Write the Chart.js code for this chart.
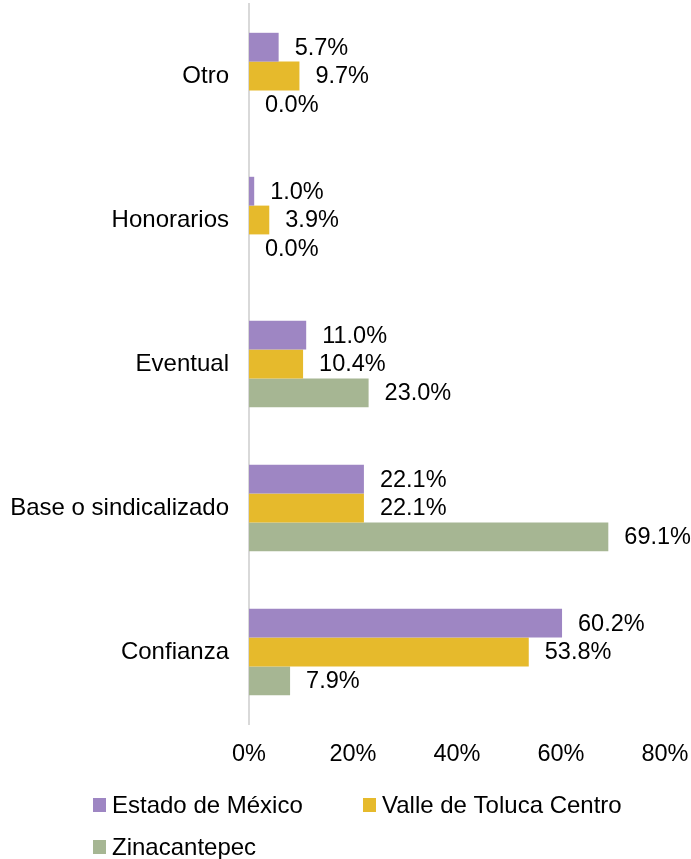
<!DOCTYPE html>
<html>
<head>
<meta charset="utf-8">
<script src="https://cdn.jsdelivr.net/npm/chart.js@4/dist/chart.umd.min.js"></script>
<style>
html,body{margin:0;padding:0;background:#fff;}
#wrap{width:691px;height:859px;position:relative;}
</style>
</head>
<body>
<div id="wrap"><canvas id="c" width="691" height="859"></canvas></div>
<script>
const categories = ['Otro', 'Honorarios', 'Eventual', 'Base o sindicalizado', 'Confianza'];
const seriesNames = ['Estado de México', 'Valle de Toluca Centro', 'Zinacantepec'];
const estadoMexico = [5.7, 1.0, 11.0, 22.1, 60.2];
const valleToluca = [9.7, 3.9, 10.4, 22.1, 53.8];
const zinacantepec = [0.0, 0.0, 23.0, 69.1, 7.9];
const xTicks = [0, 20, 40, 60, 80];
const colors = ['#9E86C3', '#E6BA2C', '#A6B693'];

const FONT = '"Liberation Sans", Arial, sans-serif';

const valueLabels = {
  id: 'valueLabels',
  afterDatasetsDraw(chart) {
    const ctx = chart.ctx;
    ctx.save();
    ctx.font = '23.5px ' + FONT;
    ctx.fillStyle = '#000';
    ctx.textAlign = 'left';
    ctx.textBaseline = 'middle';
    chart.data.datasets.forEach((ds, i) => {
      const meta = chart.getDatasetMeta(i);
      meta.data.forEach((bar, j) => {
        ctx.fillText(ds.data[j].toFixed(1) + '%', bar.x + 16, bar.y + 1);
      });
    });
    ctx.restore();
  }
};

const customLegend = {
  id: 'customLegend',
  afterDraw(chart) {
    const ctx = chart.ctx;
    const pos = [[93, 805], [363, 805], [93, 847]];
    ctx.save();
    ctx.font = '24px ' + FONT;
    ctx.textAlign = 'left';
    ctx.textBaseline = 'middle';
    chart.data.datasets.forEach((ds, i) => {
      const [x, y] = pos[i];
      ctx.fillStyle = ds.backgroundColor;
      ctx.fillRect(x, y - 7, 13, 14);
      ctx.fillStyle = '#000';
      ctx.fillText(ds.label, x + 19, y + 1);
    });
    ctx.restore();
  }
};

new Chart(document.getElementById('c'), {
  type: 'bar',
  data: {
    labels: categories,
    datasets: [
      { label: seriesNames[0], data: estadoMexico, backgroundColor: colors[0] },
      { label: seriesNames[1], data: valleToluca, backgroundColor: colors[1] },
      { label: seriesNames[2], data: zinacantepec, backgroundColor: colors[2] }
    ]
  },
  options: {
    indexAxis: 'y',
    responsive: false,
    animation: false,
    devicePixelRatio: 1,
    layout: { padding: { top: 4, right: 26, left: 0, bottom: 0 } },
    datasets: { bar: { categoryPercentage: 0.6, barPercentage: 1.0 } },
    plugins: {
      legend: { display: false },
      tooltip: { enabled: false }
    },
    scales: {
      x: {
        min: 0, max: 80,
        afterBuildTicks(axis) { axis.ticks = xTicks.map(v => ({ value: v })); },
        afterFit(axis) {
          axis.height = 135;
          axis.paddingLeft = 0; axis.paddingRight = 0;
          axis.paddingTop = 0; axis.paddingBottom = 0;
        },
        grid: { display: false, drawTicks: false },
        border: { display: false },
        ticks: {
          padding: 16,
          maxRotation: 0,
          color: '#000',
          font: { family: FONT, size: 23.5 },
          callback: v => v + '%'
        }
      },
      y: {
        afterFit(axis) {
          axis.width = 249;
          axis.paddingLeft = 0; axis.paddingRight = 0;
          axis.paddingTop = 0; axis.paddingBottom = 0;
        },
        grid: { display: false, drawTicks: false },
        border: { display: true, color: '#D9D9D9', width: 2 },
        ticks: {
          padding: 20,
          color: '#000',
          font: { family: FONT, size: 24 }
        }
      }
    }
  },
  plugins: [valueLabels, customLegend]
});
</script>
</body>
</html>
